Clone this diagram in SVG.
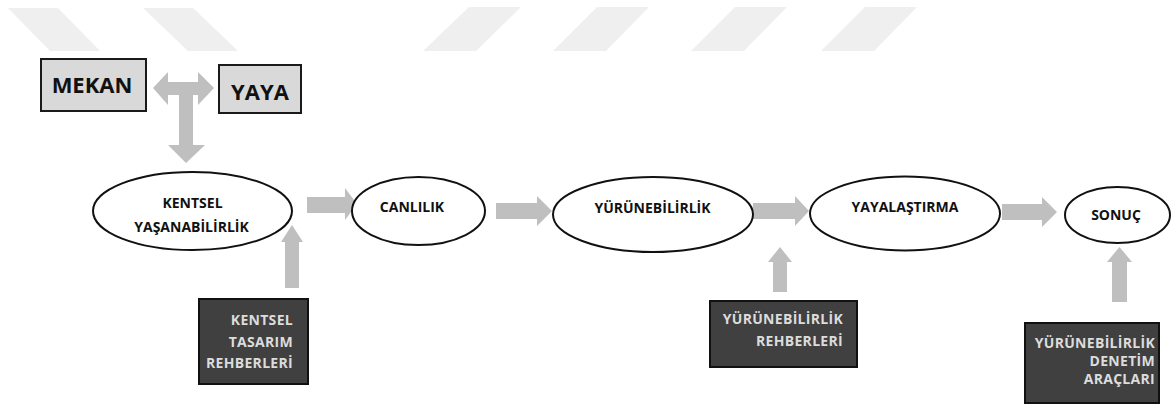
<svg xmlns="http://www.w3.org/2000/svg" width="1174" height="405" viewBox="0 0 1174 405">
<style>
.wm{fill:#efefef}
.arr{fill:#bfbfbf}
.lbox{fill:#d9d9d9;stroke:#1a1a1a;stroke-width:2}
.dbox{fill:#404040;stroke:#111;stroke-width:2}
.ell{fill:#fff;stroke:#111;stroke-width:2}
text{font-family:"Open Sans","Liberation Sans",sans-serif;font-weight:bold}
.big{font-size:22px;fill:#111;text-anchor:middle}
.lbl{font-size:14px;fill:#111;text-anchor:middle}
.wt{font-size:14px;fill:#dcdcdc;text-anchor:end;letter-spacing:0.3px}
</style>
<rect width="1174" height="405" fill="#fff"/>
<g id="watermark">
<polygon class="wm" points="8,8 58,8 100,51 50,51"/>
<polygon class="wm" points="143,8 193,8 238,51 188,51"/>
<polygon class="wm" points="469,7 521,7 476,51 423,51"/>
<polygon class="wm" points="597,7 649,7 606,51 553,51"/>
<polygon class="wm" points="735,7 787,7 744,51 691,51"/>
<polygon class="wm" points="865,7 917,7 874,51 821,51"/>
</g>
<g id="connectors">
<polygon class="arr" points="153,88 168,72 168,82 198,82 198,72 214,88 198,105 198,95 193,95 193,145 205,145 186,163 168,145 179,145 179,95 168,95 168,105"/>
<polygon class="arr" points="307,197 345,197 345,188 357,204 345,220 345,213 307,213"/>
<polygon class="arr" points="496,203 537,203 537,196 552,211 537,226 537,219 496,219"/>
<polygon class="arr" points="753,203 795,203 795,196 809,211 795,226 795,219 753,219"/>
<polygon class="arr" points="1002,204 1042,204 1042,197 1057,212 1042,227 1042,220 1002,220"/>
<polygon class="arr" points="285,288 285,242 281,242 292,225 303,242 299,242 299,288"/>
<polygon class="arr" points="773,292 773,262 768,262 780,247 792,262 787,262 787,292"/>
<polygon class="arr" points="1112,302 1112,262 1107,262 1119.5,247 1132,262 1127,262 1127,302"/>
</g>
<g id="mekan">
<rect class="lbox" x="41" y="59" width="105" height="52"/>
<text class="big" x="92" y="93">MEKAN</text>
</g>
<g id="yaya">
<rect class="lbox" x="219" y="65" width="82" height="48"/>
<text class="big" x="260" y="100">YAYA</text>
</g>
<g id="kentsel-yasanabilirlik">
<ellipse class="ell" cx="192.5" cy="211" rx="99.5" ry="39"/>
<text class="lbl" x="192.5" y="208">KENTSEL</text>
<text class="lbl" x="191.5" y="232">YAŞANABİLİRLİK</text>
</g>
<g id="canlilik">
<ellipse class="ell" cx="418.5" cy="211" rx="66.5" ry="34"/>
<text class="lbl" x="412" y="212">CANLILIK</text>
</g>
<g id="yurunebilirlik">
<ellipse class="ell" cx="653" cy="214.5" rx="100" ry="37.5"/>
<text class="lbl" x="652.5" y="213">YÜRÜNEBİLİRLİK</text>
</g>
<g id="yayalastirma">
<ellipse class="ell" cx="905" cy="213.5" rx="95" ry="37"/>
<text class="lbl" x="905" y="212">YAYALAŞTIRMA</text>
</g>
<g id="sonuc">
<ellipse class="ell" cx="1117.5" cy="215" rx="52.5" ry="28"/>
<text class="lbl" x="1116" y="220">SONUÇ</text>
</g>
<g id="kentsel-tasarim-rehberleri">
<rect class="dbox" x="199" y="299" width="109" height="85"/>
<text class="wt" x="293" y="325">KENTSEL</text>
<text class="wt" x="293" y="347">TASARIM</text>
<text class="wt" x="293" y="368">REHBERLERİ</text>
</g>
<g id="yurunebilirlik-rehberleri">
<rect class="dbox" x="710" y="301" width="147" height="66"/>
<text class="wt" x="843" y="324">YÜRÜNEBİLİRLİK</text>
<text class="wt" x="843" y="346">REHBERLERİ</text>
</g>
<g id="yurunebilirlik-denetim-araclari">
<rect class="dbox" x="1025" y="323" width="134" height="80"/>
<text class="wt" x="1155" y="348">YÜRÜNEBİLİRLİK</text>
<text class="wt" x="1155" y="366">DENETİM</text>
<text class="wt" x="1155" y="384">ARAÇLARI</text>
</g>
</svg>
